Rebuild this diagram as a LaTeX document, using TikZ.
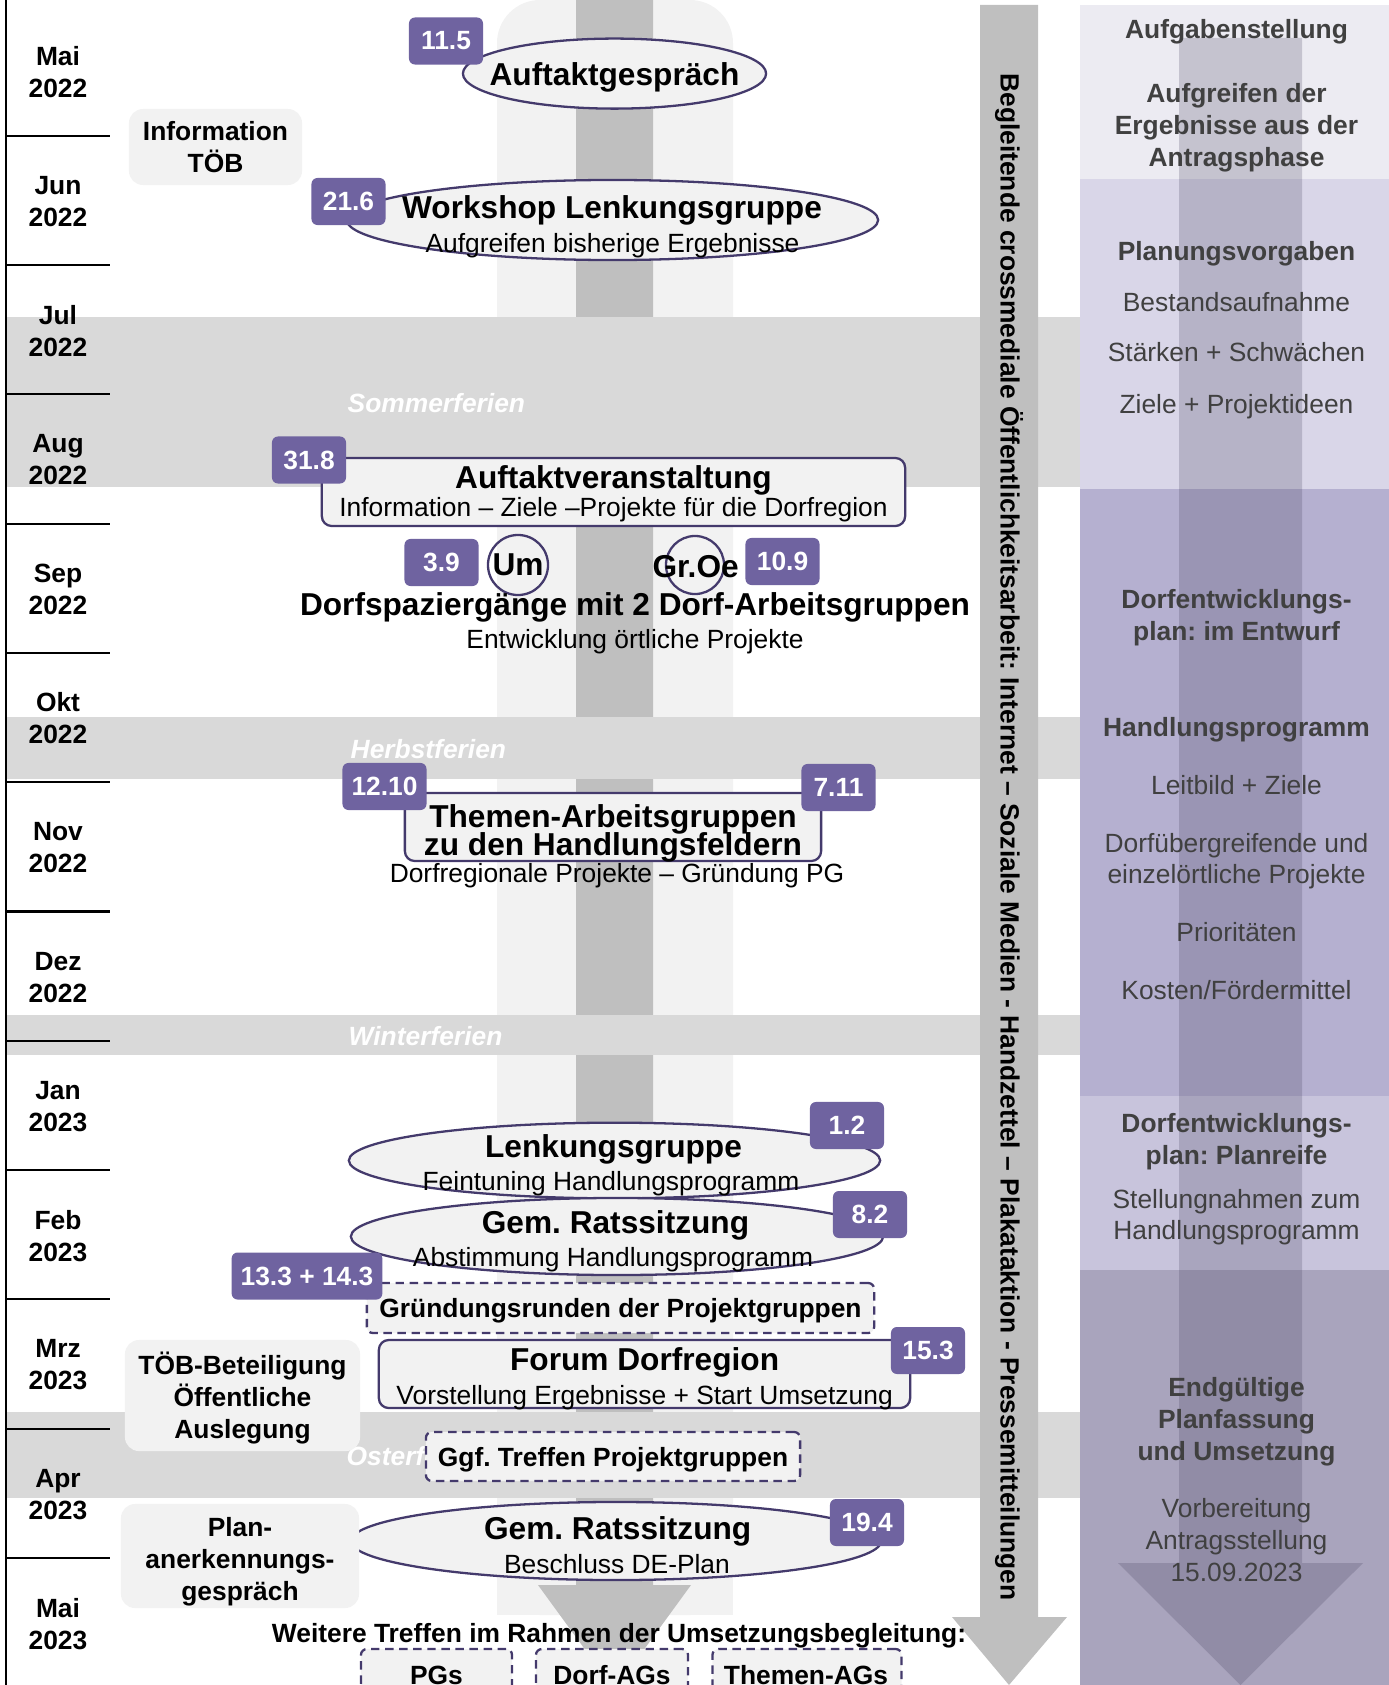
\documentclass[tikz,border=0pt]{standalone}
\usepackage{fontspec}
\setmainfont{Liberation Sans}
\usetikzlibrary{shapes.geometric}
\frenchspacing

\definecolor{lightfill}{RGB}{242,242,242}
\definecolor{ferienfill}{RGB}{217,217,217}
\definecolor{arrowgray}{RGB}{191,191,191}
\definecolor{badgefill}{RGB}{111,99,160}
\definecolor{edgepurple}{RGB}{68,58,108}
\definecolor{panelA}{RGB}{236,235,242}
\definecolor{panelB}{RGB}{217,214,232}
\definecolor{panelC}{RGB}{181,176,208}
\definecolor{panelD}{RGB}{200,196,220}
\definecolor{panelE}{RGB}{169,164,189}
\definecolor{paneltxt}{RGB}{64,64,64}
\definecolor{panelarrow}{RGB}{60,55,85}

\newcommand{\tlTitle}{\fontsize{9}{10}\selectfont\bfseries}
\newcommand{\tlSub}{\fontsize{7.5}{9}\selectfont}
\newcommand{\tlBold}{\fontsize{7.5}{9.1}\selectfont\bfseries}

\begin{document}
\begin{tikzpicture}[x=0.01cm,y=-0.01cm,
  datebadge/.style={fill=badgefill,rounded corners=1.7pt,text=white,font=\tlBold,minimum width=0.74cm,minimum height=0.47cm,inner xsep=0.09cm,inner ysep=0pt},
  evtoval/.style={ellipse,draw=edgepurple,fill=lightfill,line width=0.65pt,inner sep=0pt},
  evtbox/.style={rectangle,rounded corners=2.8pt,draw=edgepurple,fill=lightfill,line width=0.65pt,inner sep=0pt},
  evtdash/.style={evtbox,dash pattern=on 2.4pt off 1.6pt,rounded corners=1.7pt},
  titletext/.style={font=\tlTitle,inner sep=0pt},
  subtext/.style={font=\tlSub,inner sep=0pt},
  boldtext/.style={font=\tlBold,inner sep=0pt,align=center},
  greynote/.style={fill=lightfill,rounded corners=4pt,inner sep=0pt},
  ferienlbl/.style={font=\tlBold\itshape,text=white,anchor=west,inner sep=0pt},
  paneltext/.style={font=\tlSub,text=paneltxt,align=center,inner sep=0pt},
  panelbold/.style={paneltext,font=\tlBold}
]
\useasboundingbox (0,0) rectangle (1389,1685);
\clip (0,0) rectangle (1389,1685);

% Mittelspalte mit Pfeil
\fill[lightfill,rounded corners=0.43cm] (497,0) rectangle (733,1615);
\fill[lightfill] (497,700) rectangle (733,1615);
\fill[arrowgray] (576,0) -- (576,1585) -- (538,1585) -- (614.5,1690) -- (691,1585) -- (653,1585) -- (653,0) -- cycle;

% Ferien
\fill[ferienfill] (7,317) rectangle (1080,487);
\fill[ferienfill] (7,717) rectangle (1080,779);
\fill[ferienfill] (7,1015) rectangle (1080,1055);
\fill[ferienfill] (7,1412) rectangle (1080,1498);

% Oeffentlichkeitsarbeit
\fill[arrowgray] (980,5) -- (980,1617) -- (952,1617) -- (1009,1685) -- (1067,1617) -- (1038,1617) -- (1038,5) -- cycle;
\node[font=\tlBold,rotate=-90,inner sep=0pt] (pr) at (1009,837) {Begleitende crossmediale Öffentlichkeitsarbeit: Internet – Soziale Medien - Handzettel – Plakataktion - Pressemitteilungen};

% rechte Spalte
\fill[panelA] (1080,5) rectangle (1389,179);
\fill[panelB] (1080,179) rectangle (1389,489);
\fill[panelC] (1080,489) rectangle (1389,1096);
\fill[panelD] (1080,1096) rectangle (1389,1270);
\fill[panelE] (1080,1270) rectangle (1389,1685);
\fill[panelarrow,opacity=0.22] (1179,38) -- (1179,1563) -- (1118,1563) -- (1240.5,1685) -- (1363,1563) -- (1302,1563) -- (1302,38) -- cycle;

\node[panelbold] (pA1) at (1236.5,32) {Aufgabenstellung};
\node[panelbold] (pA2) at (1236.5,128) {Aufgreifen der\\Ergebnisse aus der\\Antragsphase};
\node[panelbold] (pB1) at (1236.5,254) {Planungsvorgaben};
\node[paneltext] (pB2) at (1236.5,302) {Bestandsaufnahme};
\node[paneltext] (pB3) at (1236.5,352) {Stärken + Schwächen};
\node[paneltext] (pB4) at (1236.5,407) {Ziele + Projektideen};
\node[panelbold] (pC1) at (1236.5,618) {Dorfentwicklungs-\\plan: im Entwurf};
\node[panelbold] (pC2) at (1236.5,730) {Handlungsprogramm};
\node[paneltext] (pC3) at (1236.5,785) {Leitbild + Ziele};
\node[paneltext] (pC4) at (1236.5,861) {Dorfübergreifende und\\einzelörtliche Projekte};
\node[paneltext] (pC5) at (1236.5,932.5) {Prioritäten};
\node[paneltext] (pC6) at (1236.5,990.5) {Kosten/Fördermittel};
\node[panelbold] (pD1) at (1236.5,1142) {Dorfentwicklungs-\\plan: Planreife};
\node[paneltext] (pD2) at (1236.5,1217) {Stellungnahmen zum\\Handlungsprogramm};
\node[panelbold] (pE1) at (1236.5,1422) {Endgültige\\Planfassung\\und Umsetzung};
\node[paneltext] (pE2) at (1236.5,1540) {Vorbereitung\\Antragsstellung\\15.09.2023};

% Zeitachse
\draw[line width=0.6pt] (6,0) -- (6,1685);
\foreach \k in {0,...,11}
  \draw[line width=0.6pt] (6,{135.7+129.3*\k}) -- (110,{135.7+129.3*\k});
\foreach \mon/\yr [count=\i from 0] in {Mai/2022,Jun/2022,Jul/2022,Aug/2022,Sep/2022,Okt/2022,Nov/2022,Dez/2022,Jan/2023,Feb/2023,Mrz/2023,Apr/2023,Mai/2023}
  \node[boldtext] (m\i) at (58,{72+129.3*\i}) {\mon\\\yr};

\node[ferienlbl] (fSo) at (347,403) {Sommerferien};
\node[ferienlbl] (fHe) at (350,749) {Herbstferien};
\node[ferienlbl] (fWi) at (348,1036) {Winterferien};
\begin{scope}
  \clip (340,1420) rectangle (426,1490);
  \node[ferienlbl] (fOs) at (346,1456) {Osterferien};
\end{scope}

% Termine
\node[evtoval,minimum width=3.03cm,minimum height=0.70cm] (ag) at (614.5,73.6) {};
\node[titletext] (agT) at (614.5,77) {Auftaktgespräch};
\node[datebadge] (b115) at (446,41) {11.5};

\node[greynote,boldtext,minimum width=1.73cm,minimum height=0.76cm] (info) at (215.5,147) {Information\\TÖB};

\node[evtoval,minimum width=5.31cm,minimum height=0.80cm] (ws) at (612.5,220) {};
\node[titletext] (wsT) at (612,210) {Workshop Lenkungsgruppe};
\node[subtext] (wsS) at (612.5,246) {Aufgreifen bisherige Ergebnisse};
\node[datebadge] (b216) at (348.5,201.5) {21.6};

\node[evtbox,minimum width=5.83cm,minimum height=0.68cm] (av) at (613.5,492) {};
\node[titletext] (avT) at (613.5,480) {Auftaktveranstaltung};
\node[subtext] (avS) at (613.5,510) {Information – Ziele –Projekte für die Dorfregion};
\node[datebadge] (b318) at (309,460) {31.8};

\node[datebadge] (b39) at (441.5,562.5) {3.9};
\node[circle,draw=edgepurple,line width=0.65pt,minimum size=0.60cm,inner sep=0pt,font=\tlTitle] (um) at (518,565) {Um};
\node[circle,draw=edgepurple,line width=0.65pt,minimum size=0.58cm,inner sep=0pt] (gro) at (695,565) {};
\node[titletext] (groT) at (695.6,567) {Gr.Oe};
\node[datebadge] (b109) at (782.5,561.5) {10.9};
\node[titletext] (dsT) at (635,607) {Dorfspaziergänge mit 2 Dorf-Arbeitsgruppen};
\node[subtext] (dsS) at (635,642) {Entwicklung örtliche Projekte};

\node[evtbox,minimum width=4.16cm,minimum height=0.68cm] (ta) at (613,827) {};
\node[titletext] (taT1) at (613,819.5) {Themen-Arbeitsgruppen};
\node[titletext] (taT2) at (613,847.4) {zu den Handlungsfeldern};
\node[subtext] (taS) at (617,876) {Dorfregionale Projekte – Gründung PG};
\node[datebadge] (b1210) at (384.5,786.5) {12.10};
\node[datebadge] (b711) at (838.5,787.5) {7.11};

\node[evtoval,minimum width=5.31cm,minimum height=0.756cm] (lg) at (614.5,1160.5) {};
\node[titletext] (lgT) at (613.5,1149) {Lenkungsgruppe};
\node[subtext] (lgS) at (611,1184) {Feintuning Handlungsprogramm};
\node[datebadge] (b12) at (847,1125.5) {1.2};

\node[evtoval,minimum width=5.32cm,minimum height=0.77cm] (gr1) at (617,1236.5) {};
\node[titletext] (gr1T) at (615.5,1225.5) {Gem. Ratssitzung};
\node[subtext] (gr1S) at (613,1260) {Abstimmung Handlungsprogramm};
\node[datebadge] (b82) at (870,1214.5) {8.2};

\node[evtdash,minimum width=5.07cm,minimum height=0.50cm] (grd) at (620.5,1308) {};
\node[boldtext] (grdT) at (620.5,1311) {Gründungsrunden der Projektgruppen};
\node[datebadge] (b1314) at (307,1276) {13.3 + 14.3};

\node[evtbox,minimum width=5.31cm,minimum height=0.68cm] (fo) at (644.5,1374) {};
\node[titletext] (foT) at (644.6,1362) {Forum Dorfregion};
\node[subtext] (foS) at (644.6,1397.5) {Vorstellung Ergebnisse + Start Umsetzung};
\node[datebadge] (b153) at (928,1350.5) {15.3};

\node[greynote,boldtext,minimum width=2.35cm,minimum height=1.11cm] (toeb) at (242.5,1395.5) {};
\node[boldtext] (toebT) at (242.5,1398.5) {TÖB-Beteiligung\\Öffentliche\\Auslegung};

\node[evtdash,minimum width=3.74cm,minimum height=0.49cm] (ggf) at (613,1456.5) {};
\node[boldtext] (ggfT) at (613,1460) {Ggf. Treffen Projektgruppen};

\node[evtoval,minimum width=5.30cm,minimum height=0.78cm] (gr2) at (616,1541) {};
\node[titletext] (gr2T) at (617.7,1531) {Gem. Ratssitzung};
\node[subtext] (gr2S) at (617,1564) {Beschluss DE-Plan};
\node[datebadge] (b194) at (867,1522.5) {19.4};

\node[greynote,minimum width=2.38cm,minimum height=1.04cm] (plan) at (240,1556) {};
\node[boldtext] (planT) at (240,1562) {Plan-\\anerkennungs-\\gespräch};

% Umsetzungsbegleitung
\node[boldtext] (wt) at (619,1636) {Weitere Treffen im Rahmen der Umsetzungsbegleitung:};
\node[evtdash,minimum width=1.51cm,minimum height=0.72cm] (pg) at (436.5,1685) {};
\node[boldtext] (pgT) at (436.5,1675) {PGs};
\node[evtdash,minimum width=1.52cm,minimum height=0.72cm] (dag) at (612,1685) {};
\node[boldtext] (dagT) at (612,1675) {Dorf-AGs};
\node[evtdash,minimum width=1.89cm,minimum height=0.72cm] (tag) at (807,1685) {};
\node[boldtext] (tagT) at (806,1675) {Themen-AGs};
\end{tikzpicture}
\end{document}
